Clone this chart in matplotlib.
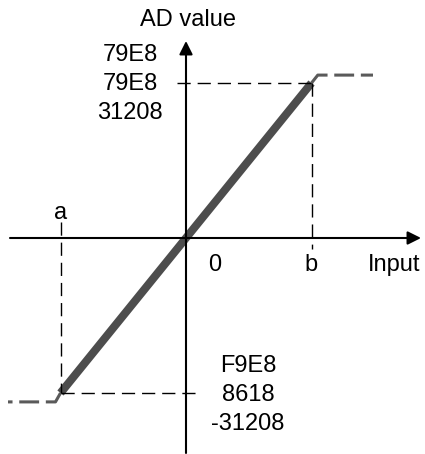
import numpy as np
import matplotlib
matplotlib.use('Agg')
import matplotlib.pyplot as plt

plt.rcParams['font.family'] = ['Liberation Sans', 'DejaVu Sans']

# transfer curve: input a..b maps to AD min..max, clipped outside
input_a = -1.0
input_b = 1.0
ad_min = -31208
ad_max = 31208
sat_low = -33000    # grey clipped level drawn below a
sat_high = 32800    # grey clipped level drawn above b

top_labels = ['79E8', '79E8', '31208']
bottom_labels = ['F9E8', '8618', '-31208']

# pixel -> data mapping (origin at 186,238 ; 125.5 px per input unit, ad px scale)
px_x = 125.5
px_y = 310.0 / (ad_max - ad_min)
ox, oy = 186.0, 238.0

fig = plt.figure(figsize=(4.25, 4.54), dpi=100)
ax = fig.add_axes([0, 0, 1, 1])
ax.set_xlim((0 - ox) / px_x, (425 - ox) / px_x)
ax.set_ylim((oy - 454) / px_y, (oy - 0) / px_y)
ax.axis('off')

def X(p):
    return (p - ox) / px_x

def Y(p):
    return (oy - p) / px_y

# axes with arrows
arr = dict(arrowstyle='-|>', color='black', lw=1.5, mutation_scale=20,
           shrinkA=0, shrinkB=0)
ax.annotate('', xy=(X(421), 0), xytext=(X(10), 0), arrowprops=arr)
ax.annotate('', xy=(0, Y(41)), xytext=(0, Y(453)), arrowprops=arr)

# thick transfer line
ax.plot([input_a, input_b], [ad_min, ad_max], color='#4d4d4d', lw=5.8,
        solid_capstyle='butt')

# grey saturation
grey_ls = (0, (6.5, 2.2))
ax.plot([input_b, input_b + 0.05, X(373)], [ad_max, sat_high, sat_high],
        color='#5a5a5a', lw=2.2, ls=grey_ls)
ax.plot([input_a, input_a - 0.04, X(8)], [ad_min, sat_low, sat_low],
        color='#5a5a5a', lw=2.2, ls=grey_ls)

# black guide dashes
blk_ls = (0, (9.5, 5))
ax.plot([X(177), input_b], [ad_max, ad_max], color='black', lw=1.0, ls=blk_ls)
ax.plot([input_b, input_b], [ad_max, Y(249)], color='black', lw=1.0, ls=blk_ls)
ax.plot([input_a, X(201)], [ad_min, ad_min], color='black', lw=1.0, ls=blk_ls)
ax.plot([input_a, input_a], [Y(222), ad_min], color='black', lw=1.0, ls=blk_ls)

fs = 17
ax.text(X(188), Y(20), 'AD value', fontsize=fs, ha='center', va='center')
for i, lab in enumerate(top_labels):
    ax.text(X(130), Y(55 + 29 * i), lab, fontsize=fs, ha='center', va='center')
for i, lab in enumerate(bottom_labels):
    ax.text(X(248), Y(366 + 29 * i), lab, fontsize=fs, ha='center', va='center')
ax.text(input_a, Y(213), 'a', fontsize=fs, ha='center', va='center')
ax.text(X(215), Y(265), '0', fontsize=fs, ha='center', va='center')
ax.text(input_b, Y(265), 'b', fontsize=fs, ha='center', va='center')
ax.text(X(394), Y(265), 'Input', fontsize=fs, ha='center', va='center')

fig.savefig('out.png', dpi=100)
